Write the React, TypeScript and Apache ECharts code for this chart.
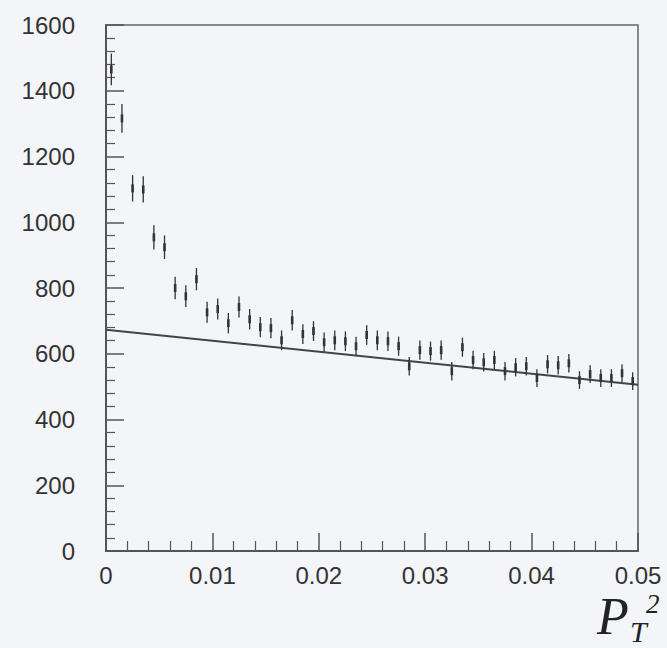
import React, { useEffect, useRef } from "react";
import * as echarts from "echarts";

const binCenters = [
  0.0005, 0.0015, 0.0025, 0.0035, 0.0045, 0.0055, 0.0065, 0.0075, 0.0085, 0.0095,
  0.0105, 0.0115, 0.0125, 0.0135, 0.0145, 0.0155, 0.0165, 0.0175, 0.0185, 0.0195,
  0.0205, 0.0215, 0.0225, 0.0235, 0.0245, 0.0255, 0.0265, 0.0275, 0.0285, 0.0295,
  0.0305, 0.0315, 0.0325, 0.0335, 0.0345, 0.0355, 0.0365, 0.0375, 0.0385, 0.0395,
  0.0405, 0.0415, 0.0425, 0.0435, 0.0445, 0.0455, 0.0465, 0.0475, 0.0485, 0.0495,
];
const counts = [
  1465, 1316, 1103, 1100, 954, 924, 800, 775, 827, 726,
  736, 693, 742, 705, 681, 678, 641, 702, 660, 669,
  635, 641, 638, 623, 657, 641, 638, 623, 562, 611,
  608, 611, 547, 620, 581, 574, 581, 547, 559, 562,
  526, 568, 565, 571, 520, 538, 526, 526, 541, 517,
];
const errors = [
  48, 44, 40, 40, 37, 36, 34, 33, 34, 32,
  32, 31, 32, 31, 31, 31, 30, 31, 30, 30,
  30, 30, 30, 29, 30, 30, 30, 29, 28, 29,
  29, 29, 28, 29, 28, 28, 28, 28, 28, 28,
  27, 28, 28, 28, 27, 27, 27, 27, 27, 27,
];
const fitLine = [
  [0, 673],
  [0.05, 506],
];
const xTicks = { min: 0, max: 0.05, interval: 0.01 };
const yTicks = { min: 0, max: 1600, interval: 200 };

export default function App() {
  const ref = useRef<HTMLDivElement>(null);
  useEffect(() => {
    if (!ref.current) return;
    const chart = echarts.init(ref.current, null, { renderer: "svg" });
    const ink = "#333";
    const pts = binCenters.map((x, i) => [x, counts[i], errors[i]]);
    chart.setOption({
      animation: false,
      backgroundColor: "#f3f5f8",
      grid: {
        left: 106,
        right: 29,
        top: 25,
        bottom: 97,
        show: true,
        borderColor: "#666",
        borderWidth: 1.5,
        backgroundColor: "transparent",
      },
      xAxis: {
        type: "value",
        min: xTicks.min,
        max: xTicks.max,
        interval: xTicks.interval,
        axisLine: { show: true, lineStyle: { color: "#555", width: 2 } },
        axisTick: { show: true, inside: true, length: 18, lineStyle: { color: "#555", width: 1.5 } },
        minorTick: { show: true, splitNumber: 5, length: 10, lineStyle: { color: "#555", width: 1.2 } },
        splitLine: { show: false },
        axisLabel: {
          margin: 12,
          fontSize: 24,
          color: ink,
          fontFamily: "Liberation Sans",
          formatter: (v: number) => (v === 0 ? "0" : v.toFixed(2)),
        },
      },
      yAxis: {
        type: "value",
        min: yTicks.min,
        max: yTicks.max,
        interval: yTicks.interval,
        axisLine: { show: true, lineStyle: { color: "#555", width: 2 } },
        axisTick: { show: true, inside: true, length: 18, lineStyle: { color: "#555", width: 1.5 } },
        minorTick: { show: true, splitNumber: 5, length: 9, lineStyle: { color: "#555", width: 1.2 } },
        splitLine: { show: false },
        axisLabel: {
          margin: 31,
          fontSize: 24,
          color: ink,
          fontFamily: "Liberation Sans",
          formatter: (v: number) => String(Math.round(v)),
        },
      },
      series: [
        {
          type: "line",
          data: fitLine,
          symbol: "none",
          lineStyle: { color: "#444", width: 2 },
          z: 2,
        },
        {
          type: "custom",
          data: pts,
          z: 3,
          renderItem: (params: any, api: any) => {
            const x = api.value(0);
            const y = api.value(1);
            const e = api.value(2);
            const top = api.coord([x, y + e]);
            const bot = api.coord([x, y - e]);
            const mid = api.coord([x, y]);
            return {
              type: "group",
              children: [
                {
                  type: "line",
                  shape: { x1: top[0], y1: top[1], x2: bot[0], y2: bot[1] },
                  style: { stroke: "#333", lineWidth: 1.3 },
                },
                {
                  type: "rect",
                  shape: { x: mid[0] - 1.3, y: mid[1] - 4, width: 2.6, height: 8 },
                  style: { fill: "#333" },
                },
              ],
            };
          },
        },
      ],
      graphic: [
        {
          type: "text",
          left: 597,
          top: 590,
          style: {
            text: "P",
            font: "italic 52px 'Liberation Serif'",
            fill: "#222",
          },
        },
        {
          type: "text",
          left: 630,
          top: 616,
          style: {
            text: "T",
            font: "italic 30px 'Liberation Serif'",
            fill: "#222",
          },
        },
        {
          type: "text",
          left: 646,
          top: 590,
          style: {
            text: "2",
            font: "italic 27px 'Liberation Serif'",
            fill: "#222",
          },
        },
      ],
    });
    return () => chart.dispose();
  }, []);
  return (
    <div
      ref={ref}
      style={{ position: "fixed", left: 0, top: 0, width: 667, height: 648 }}
    />
  );
}
